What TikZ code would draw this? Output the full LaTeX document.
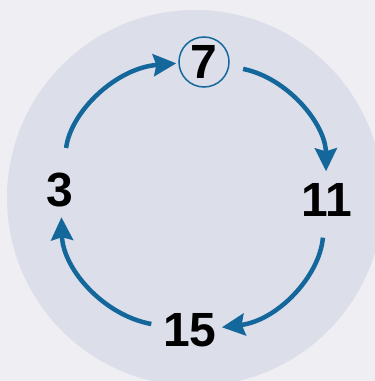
\documentclass[tikz,border=0pt]{standalone}
\usepackage{fontspec}
\setmainfont{Liberation Sans}
\usepackage{xcolor}
\usetikzlibrary{arrows.meta}

\definecolor{pagebg}{HTML}{EEEEF3}
\definecolor{discbg}{HTML}{DCDFEA}
\definecolor{cycleblue}{HTML}{13679A}

\begin{document}
\begin{tikzpicture}[
    x=1pt, y=1pt,
    num/.style={inner sep=0pt, font=\fontsize{48}{48}\selectfont\bfseries},
    ring/.style={num, circle, draw=cycleblue, line width=1.5pt, minimum size=50pt},
    arrow/.style={-{Stealth[length=23pt,width=22pt,inset=3pt]}, line width=4.5pt, draw=cycleblue, bend left=39}
]
    \useasboundingbox (0,0) rectangle (375,381);
    \clip (0,0) rectangle (375,381);
    \fill[pagebg] (0,0) rectangle (375,381);
    \fill[discbg] (195,183) circle (188);

    \node[ring] (seven) at (204,319) {7};
    \node[num] (eleven) at (327,181) {11};
    \node[num] (fifteen) at (190,51) {15};
    \node[num] (three) at (60,191) {3};

    \draw[arrow, shorten <=25pt, shorten >=2pt] (three) to (seven);
    \draw[arrow, shorten <=14pt, shorten >=12pt] (seven) to (eleven);
    \draw[arrow, shorten <=21pt, shorten >=5pt] (eleven) to (fifteen);
    \draw[arrow, shorten <=12pt, shorten >=10pt] (fifteen) to (three);
\end{tikzpicture}
\end{document}
